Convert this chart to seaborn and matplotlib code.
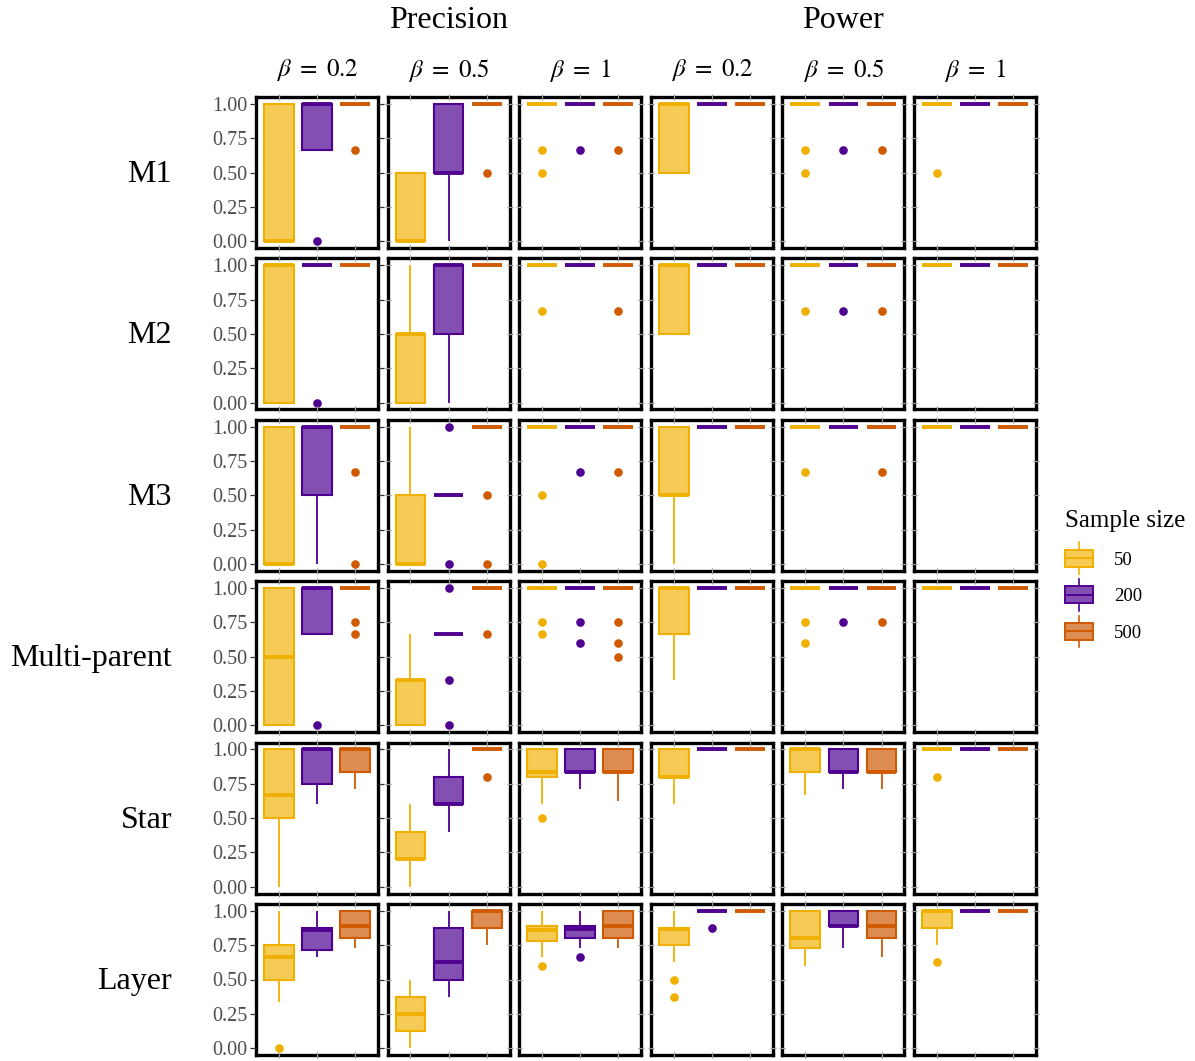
import matplotlib
matplotlib.use("Agg")
import matplotlib.pyplot as plt
import pandas as pd
import seaborn as sns
from matplotlib.patches import Rectangle, Patch
from matplotlib.lines import Line2D
from matplotlib.legend_handler import HandlerBase

plt.rcParams["font.family"] = ["Liberation Serif", "DejaVu Serif"]
plt.rcParams["mathtext.fontset"] = "stix"

# ---- chart content ----------------------------------------------------
sizes = ["50", "200", "500"]
line_colors = ["#F0B000", "#4F0090", "#D05A00"]
fill_colors = ["#F5CB55", "#834FB2", "#DD8C52"]
metrics = ["Precision", "Power"]
betas = ["0.2", "0.5", "1"]
models = ["M1", "M2", "M3", "Multi-parent", "Star", "Layer"]

# Box summaries per panel (Precision b=0.2, 0.5, 1, Power b=0.2, 0.5, 1),
# one entry per sample size: [lower whisker, Q1, median, Q3, upper whisker, outliers...]
ALL1 = [1, 1, 1, 1, 1]

M1 = [
    [[0, 0, 0, 1, 1], [0.667, 0.667, 1, 1, 1, 0], [1, 1, 1, 1, 1, 0.667]],
    [[0, 0, 0, 0.5, 0.5], [0, 0.5, 0.5, 1, 1], [1, 1, 1, 1, 1, 0.5]],
    [[1, 1, 1, 1, 1, 0.667, 0.5], [1, 1, 1, 1, 1, 0.667], [1, 1, 1, 1, 1, 0.667]],
    [[0.5, 0.5, 1, 1, 1], ALL1, ALL1],
    [[1, 1, 1, 1, 1, 0.667, 0.5], [1, 1, 1, 1, 1, 0.667], [1, 1, 1, 1, 1, 0.667]],
    [[1, 1, 1, 1, 1, 0.5], ALL1, ALL1],
]

M2 = [
    [[0, 0, 1, 1, 1], [1, 1, 1, 1, 1, 0], ALL1],
    [[0, 0, 0.5, 0.5, 1], [0, 0.5, 1, 1, 1], ALL1],
    [[1, 1, 1, 1, 1, 0.667], ALL1, [1, 1, 1, 1, 1, 0.667]],
    [[0.5, 0.5, 1, 1, 1], ALL1, ALL1],
    [[1, 1, 1, 1, 1, 0.667], [1, 1, 1, 1, 1, 0.667], [1, 1, 1, 1, 1, 0.667]],
    [ALL1, ALL1, ALL1],
]

M3 = [
    [[0, 0, 0, 1, 1], [0, 0.5, 1, 1, 1], [1, 1, 1, 1, 1, 0.667, 0]],
    [[0, 0, 0, 0.5, 1], [0.5, 0.5, 0.5, 0.5, 0.5, 1, 0], [1, 1, 1, 1, 1, 0.5, 0]],
    [[1, 1, 1, 1, 1, 0.5, 0], [1, 1, 1, 1, 1, 0.667], [1, 1, 1, 1, 1, 0.667]],
    [[0, 0.5, 0.5, 1, 1], ALL1, ALL1],
    [[1, 1, 1, 1, 1, 0.667], ALL1, [1, 1, 1, 1, 1, 0.667]],
    [ALL1, ALL1, ALL1],
]

MULTI = [
    [[0, 0, 0.5, 1, 1], [0.667, 0.667, 1, 1, 1, 0], [1, 1, 1, 1, 1, 0.75, 0.667]],
    [[0, 0, 0.333, 0.333, 0.667], [0.667, 0.667, 0.667, 0.667, 0.667, 1, 0.333, 0],
     [1, 1, 1, 1, 1, 0.667]],
    [[1, 1, 1, 1, 1, 0.75, 0.667], [1, 1, 1, 1, 1, 0.75, 0.6], [1, 1, 1, 1, 1, 0.75, 0.6, 0.5]],
    [[0.333, 0.667, 1, 1, 1], ALL1, ALL1],
    [[1, 1, 1, 1, 1, 0.75, 0.6], [1, 1, 1, 1, 1, 0.75], [1, 1, 1, 1, 1, 0.75]],
    [ALL1, ALL1, ALL1],
]

STAR = [
    [[0, 0.5, 0.667, 1, 1], [0.6, 0.75, 1, 1, 1], [0.714, 0.833, 1, 1, 1]],
    [[0, 0.2, 0.2, 0.4, 0.6], [0.4, 0.6, 0.6, 0.8, 1], [1, 1, 1, 1, 1, 0.8]],
    [[0.6, 0.8, 0.833, 1, 1, 0.5], [0.714, 0.833, 0.833, 1, 1], [0.625, 0.833, 0.833, 1, 1]],
    [[0.6, 0.8, 0.8, 1, 1], ALL1, ALL1],
    [[0.667, 0.833, 1, 1, 1], [0.714, 0.833, 0.833, 1, 1], [0.714, 0.833, 0.833, 1, 1]],
    [[1, 1, 1, 1, 1, 0.8], ALL1, ALL1],
]

LAYER = [
    [[0.333, 0.5, 0.667, 0.75, 1, 0], [0.667, 0.714, 0.857, 0.875, 1], [0.727, 0.8, 0.889, 1, 1]],
    [[0, 0.125, 0.25, 0.375, 0.5], [0.375, 0.5, 0.625, 0.875, 1], [0.75, 0.875, 1, 1, 1]],
    [[0.667, 0.778, 0.857, 0.889, 1, 0.6], [0.727, 0.805, 0.867, 0.889, 1, 0.667],
     [0.727, 0.8, 0.889, 1, 1]],
    [[0.625, 0.75, 0.867, 0.875, 1, 0.5, 0.375], [1, 1, 1, 1, 1, 0.875], ALL1],
    [[0.6, 0.733, 0.8, 1, 1], [0.733, 0.889, 0.889, 1, 1], [0.667, 0.8, 0.889, 1, 1]],
    [[0.75, 0.875, 1, 1, 1, 0.625], ALL1, ALL1],
]

rows = [M1, M2, M3, MULTI, STAR, LAYER]


def sample(summary):
    """Observation list whose Tukey box statistics equal the given summary."""
    lo, q1, med, q3, hi, *extra = summary
    return [lo] + [q1] * 10 + [med] * 10 + [q3] * 10 + [hi] + list(extra)


# ---- layout (figure pixels) -------------------------------------------
W, H = 1195, 1061
fig = plt.figure(figsize=(W / 100, H / 100), dpi=100)

left0, dx, pw = 256, 131.6, 122
top0, dy, ph = 97, 161.4, 151

for r, panels in enumerate(rows):
    for c in range(6):
        top = top0 + r * dy
        ax = fig.add_axes([(left0 + c * dx) / W, (H - top - ph) / H, pw / W, ph / H])
        for k, size in enumerate(sizes):
            df = pd.DataFrame({"size": size, "value": sample(panels[c][k])})
            lc = line_colors[k]
            sns.boxplot(
                data=df, x="size", y="value", order=sizes,
                color=fill_colors[k], linecolor=lc, saturation=1,
                width=0.78, linewidth=1.5, fliersize=6.2, showcaps=False,
                whiskerprops=dict(linewidth=1.3),
                medianprops=dict(linewidth=2.8),
                flierprops=dict(marker="o", markerfacecolor=lc,
                                markeredgecolor=lc, markeredgewidth=0),
                ax=ax,
            )
        for ln in ax.lines:
            if ln.get_marker() == "o":
                ln.set_markerfacecolor(ln.get_markeredgecolor())
        ax.set_xlim(-0.6, 2.6)
        ax.set_ylim(-0.05, 1.05)
        ax.set_xlabel("")
        ax.set_ylabel("")
        ax.set_xticks([0, 1, 2])
        ax.set_yticks([0, 0.25, 0.5, 0.75, 1.0])
        ax.set_yticklabels(["0.00", "0.25", "0.50", "0.75", "1.00"])
        ax.tick_params(axis="both", which="both", top=True, right=True,
                       direction="inout", length=4, width=0.9, color="#9a9a9a",
                       labelbottom=False, labelleft=(c == 0),
                       labelsize=14.5, labelcolor="#4D4D4D", pad=2)
        if c == 0:
            ax.tick_params(axis="y", which="both", left=True, direction="out",
                           length=4, color="#333333")
        for s in ax.spines.values():
            s.set_linewidth(2.4)
            s.set_color("black")
            s.set_zorder(2)
        ax.set_axisbelow(False)
        ax.set_facecolor("white")

    fig.text(172 / W, (H - (top0 + r * dy + ph / 2 + 2)) / H, models[r],
             ha="right", va="center", fontsize=23)

# column headers
for c in range(6):
    cx = left0 + c * dx + pw / 2
    fig.text(cx / W, 1 - 70 / H, r"$\beta\ =\ %s$" % betas[c % 3],
             ha="center", va="center", fontsize=18)
for g, name in enumerate(metrics):
    cx = left0 + (3 * g + 1) * dx + pw / 2
    fig.text(cx / W, 1 - 20 / H, name, ha="center", va="center", fontsize=23)


# legend keys drawn as miniature boxplots
class BoxKey(HandlerBase):
    def create_artists(self, legend, orig, xd, yd, width, height, fontsize, trans):
        fc, ec = orig.get_facecolor(), orig.get_edgecolor()
        x0, y0 = -xd, -yd
        cx = x0 + width / 2
        whisk = Line2D([cx, cx], [y0 - 0.45 * height, y0 + 1.45 * height],
                       color=ec, lw=1.2, transform=trans)
        box = Rectangle((x0, y0), width, height, facecolor=fc, edgecolor=ec,
                        lw=1.4, transform=trans)
        med = Line2D([x0, x0 + width], [y0 + height / 2] * 2, color=ec, lw=1.4,
                     transform=trans)
        return [whisk, box, med]


handles = [Patch(facecolor=f, edgecolor=l) for f, l in zip(fill_colors, line_colors)]
fig.legend(handles, sizes, title="Sample size", loc="upper left",
           bbox_to_anchor=(1065 / W, 1 - 510 / H), frameon=False,
           fontsize=13.5, title_fontsize=18, handlelength=1.5, handleheight=1.0,
           handletextpad=1.1, labelspacing=0.95, borderpad=0, borderaxespad=0,
           alignment="left", handler_map={Patch: BoxKey()})

fig.savefig("out.png", dpi=100, facecolor="white")
